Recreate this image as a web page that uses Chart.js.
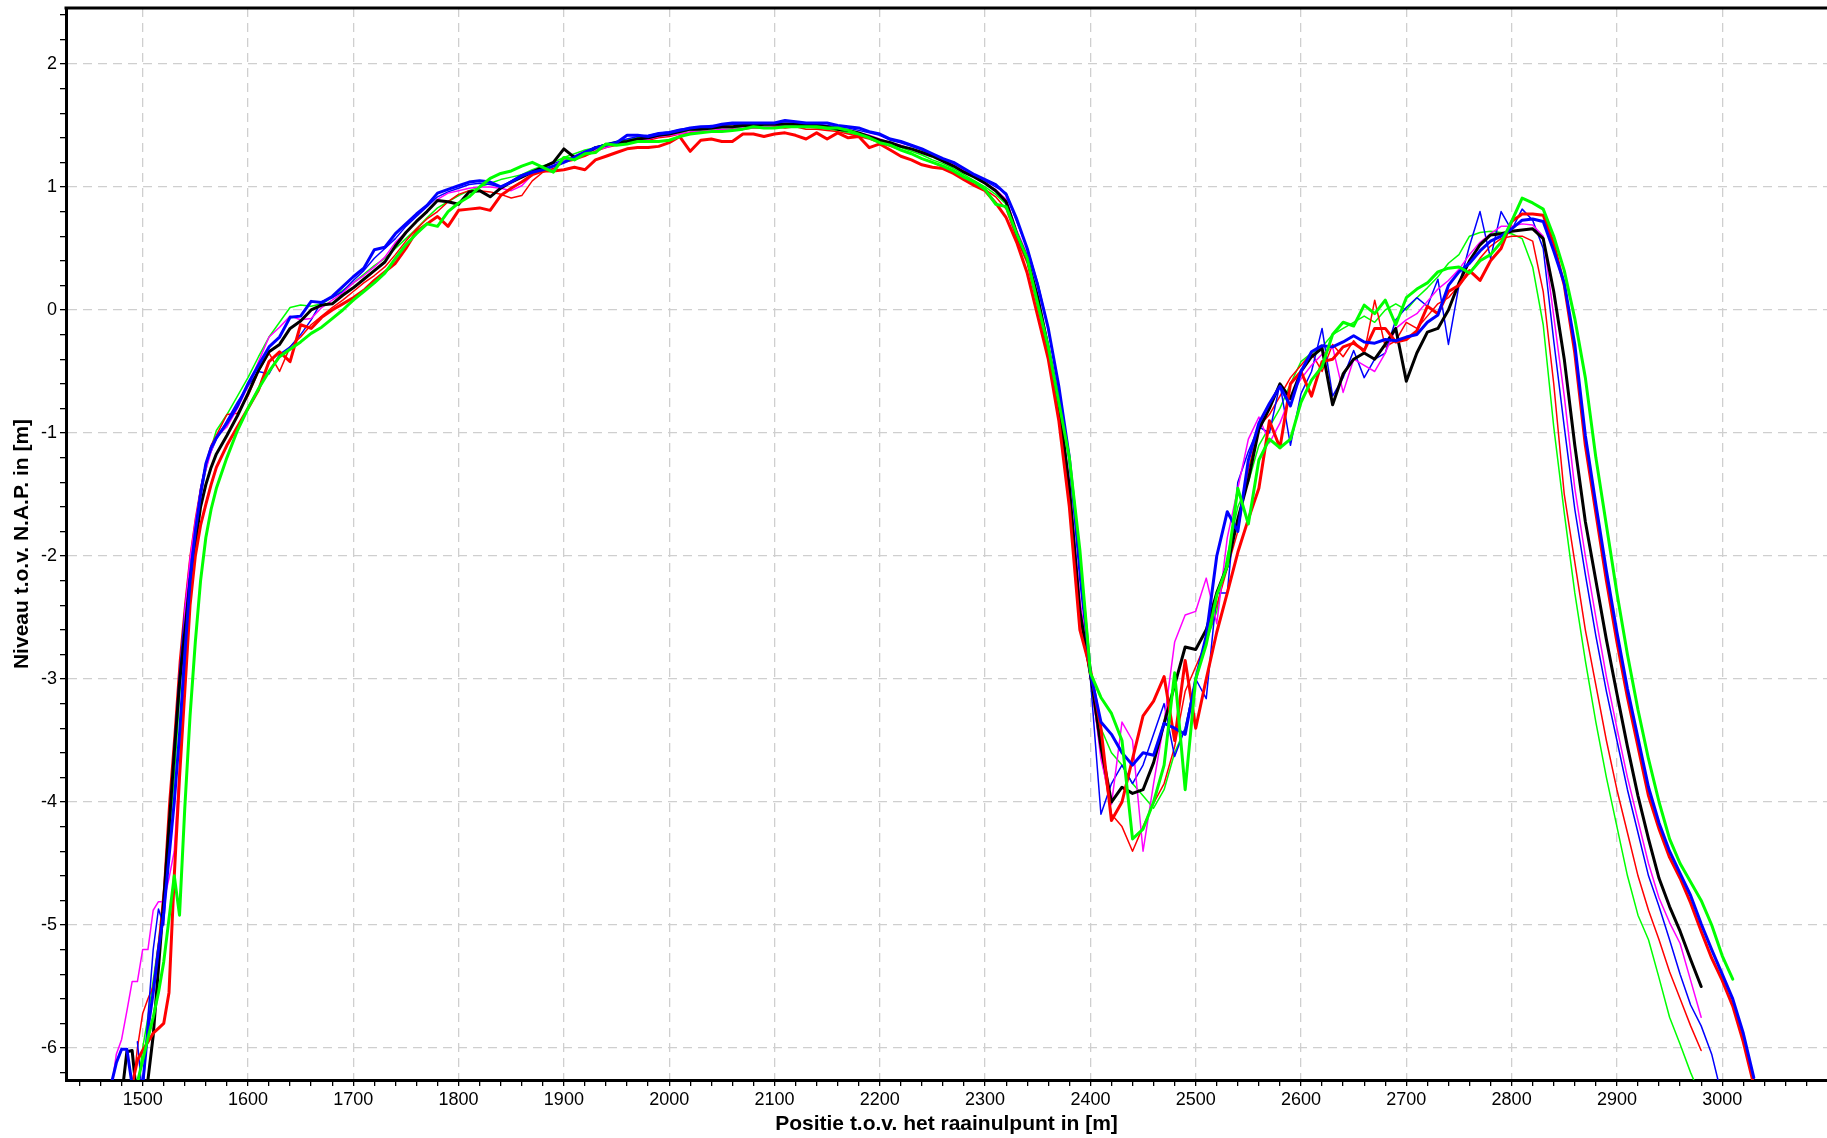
<!DOCTYPE html>
<html>
<head>
<meta charset="utf-8">
<title>Raaiprofielen</title>
<script src="https://cdn.jsdelivr.net/npm/chart.js@4.4.1/dist/chart.umd.min.js"></script>
<style>
  html, body { margin: 0; padding: 0; background: #fff; }
  #wrap { width: 1827px; height: 1138px; }
</style>
</head>
<body>
<div id="wrap"><canvas id="profiel" width="1827" height="1138"></canvas></div>
<script>
// positie t.o.v. raainulpunt [m] (5 m tot 1570, daarna 10 m)
const POSITIES = [
  1470, 1475, 1480, 1485, 1490, 1495, 1500, 1505, 1510, 1515, 1520, 1525, 1530, 1535, 1540, 1545, 1550, 1555, 1560, 1565, 1570,
  1580, 1590, 1600, 1610, 1620, 1630, 1640, 1650, 1660, 1670,
  1680, 1690, 1700, 1710, 1720, 1730, 1740, 1750, 1760, 1770,
  1780, 1790, 1800, 1810, 1820, 1830, 1840, 1850, 1860, 1870,
  1880, 1890, 1900, 1910, 1920, 1930, 1940, 1950, 1960, 1970,
  1980, 1990, 2000, 2010, 2020, 2030, 2040, 2050, 2060, 2070,
  2080, 2090, 2100, 2110, 2120, 2130, 2140, 2150, 2160, 2170,
  2180, 2190, 2200, 2210, 2220, 2230, 2240, 2250, 2260, 2270,
  2280, 2290, 2300, 2310, 2320, 2330, 2340, 2350, 2360, 2370,
  2380, 2390, 2400, 2410, 2420, 2430, 2440, 2450, 2460, 2470,
  2480, 2490, 2500, 2510, 2520, 2530, 2540, 2550, 2560, 2570,
  2580, 2590, 2600, 2610, 2620, 2630, 2640, 2650, 2660, 2670,
  2680, 2690, 2700, 2710, 2720, 2730, 2740, 2750, 2760, 2770,
  2780, 2790, 2800, 2810, 2820, 2830, 2840, 2850, 2860, 2870,
  2880, 2890, 2900, 2910, 2920, 2930, 2940, 2950, 2960, 2970,
  2980, 2990, 3000, 3010, 3020, 3030
];

const X_LABELS = [1500, 1600, 1700, 1800, 1900, 2000, 2100, 2200, 2300, 2400, 2500, 2600, 2700, 2800, 2900, 3000];
const Y_LABELS = [2, 1, 0, -1, -2, -3, -4, -5, -6];

// niveau t.o.v. NAP [m]
const ZWART = [
  null, null, -6.4, -6.03, -6.02, -6.45, -6.6, -6.26, -5.9, -5.35, -4.8, -4.2, -3.6, -3.03, -2.62, -2.2, -1.9, -1.6, -1.42, -1.28, -1.17,
  -1.02, -0.86, -0.68, -0.49, -0.34, -0.28, -0.15, -0.09, 0.0, 0.04,
  0.05, 0.12, 0.18, 0.25, 0.32, 0.39, 0.52, 0.63, 0.72, 0.8,
  0.89, 0.88, 0.86, 0.96, 0.97, 0.92, 0.99, 1.04, 1.08, 1.12,
  1.16, 1.2, 1.31, 1.24, 1.27, 1.32, 1.34, 1.36, 1.37, 1.39,
  1.4, 1.42, 1.43, 1.45, 1.47, 1.47, 1.48, 1.49, 1.49, 1.5,
  1.5, 1.51, 1.51, 1.51, 1.51, 1.5, 1.5, 1.49, 1.47, 1.46,
  1.44, 1.41, 1.38, 1.36, 1.33, 1.31, 1.28, 1.25, 1.21, 1.17,
  1.12, 1.08, 1.03, 0.97, 0.88, 0.62, 0.42, 0.1, -0.31, -0.75,
  -1.44, -2.45, -2.95, -3.55, -4.0, -3.88, -3.93, -3.9, -3.68, -3.36,
  -3.05, -2.74, -2.76, -2.6, -2.3, -2.08, -1.7, -1.38, -0.97, -0.8,
  -0.6, -0.72, -0.5, -0.38, -0.31, -0.77, -0.52, -0.4, -0.35, -0.4,
  -0.28, -0.15, -0.58, -0.35, -0.18, -0.15, 0.0, 0.22, 0.4, 0.53,
  0.61, 0.62, 0.64, 0.65, 0.66, 0.58, 0.15, -0.4, -1.1, -1.72,
  -2.2, -2.68, -3.12, -3.55, -3.95, -4.3, -4.62, -4.85, -5.05, -5.28,
  -5.5, null, null, null, null, null
];

const BLAUW_DIK = [
  -6.3, -6.12, -6.01, -6.01, -6.3, -6.5, -6.3, -5.85, -5.55, -5.2, -4.9, -4.45, -4.0, -3.45, -2.8, -2.2, -1.8, -1.5, -1.25, -1.12, -1.04,
  -0.92, -0.78, -0.6, -0.45, -0.3, -0.22, -0.06, -0.05, 0.07, 0.06,
  0.11, 0.19, 0.27, 0.34, 0.49, 0.51, 0.62, 0.7, 0.78, 0.85,
  0.95, 0.98, 1.01, 1.04, 1.05, 1.04, 1.0, 1.04, 1.09, 1.12,
  1.14, 1.17, 1.2, 1.24, 1.28, 1.32, 1.34, 1.36, 1.42, 1.42,
  1.41, 1.43, 1.44, 1.46, 1.48, 1.49, 1.49, 1.51, 1.52, 1.52,
  1.52, 1.52, 1.52, 1.54, 1.53, 1.52, 1.52, 1.52, 1.5, 1.49,
  1.48, 1.45, 1.43, 1.39, 1.37, 1.34, 1.31, 1.27, 1.23, 1.2,
  1.15, 1.1, 1.06, 1.02, 0.94, 0.74, 0.5, 0.2, -0.15, -0.62,
  -1.2, -2.05, -2.95, -3.35, -3.45, -3.6, -3.7, -3.6, -3.62, -3.36,
  -3.4, -3.45, -3.0, -2.65, -2.0, -1.64, -1.8, -1.22, -0.92, -0.76,
  -0.62, -0.78, -0.5, -0.34, -0.29, -0.3, -0.26, -0.21, -0.26, -0.27,
  -0.24, -0.25, -0.22, -0.2, -0.1, -0.04, 0.2, 0.31, 0.38, 0.48,
  0.56, 0.6, 0.66, 0.73, 0.74, 0.72, 0.48, 0.22, -0.28, -1.02,
  -1.58, -2.12, -2.62, -3.08, -3.48, -3.88, -4.17, -4.4, -4.58, -4.76,
  -4.99, -5.2, -5.4, -5.6, -5.88, -6.24
];

const ROOD_DIK = [
  null, null, null, null, -6.3, -6.1, -6.02, -5.95, -5.88, -5.84, -5.8, -5.55, -4.6, -3.8, -3.1, -2.4, -2.0, -1.75, -1.58, -1.42, -1.28,
  -1.1, -0.95, -0.8, -0.65, -0.42, -0.34, -0.42, -0.12, -0.15, -0.06,
  0.0, 0.05, 0.1, 0.16, 0.24, 0.31, 0.38, 0.5, 0.64, 0.7,
  0.76, 0.68, 0.81, 0.82, 0.83, 0.81, 0.93, 0.99, 1.04, 1.1,
  1.13, 1.13, 1.14, 1.16, 1.14, 1.22, 1.25, 1.28, 1.31, 1.32,
  1.32, 1.33, 1.36, 1.41, 1.29, 1.38, 1.39, 1.37, 1.37, 1.43,
  1.43, 1.41, 1.43, 1.44, 1.42, 1.39, 1.44, 1.39, 1.44, 1.4,
  1.41, 1.32, 1.35, 1.3, 1.25, 1.22, 1.18, 1.16, 1.15, 1.11,
  1.06, 1.01, 0.97, 0.87, 0.75, 0.55, 0.3, -0.05, -0.4, -0.9,
  -1.6, -2.6, -2.92, -3.4, -4.15, -4.0, -3.65, -3.3, -3.18, -2.98,
  -3.5, -2.85, -3.4, -3.0, -2.62, -2.3, -1.97, -1.7, -1.45, -0.9,
  -1.12, -0.6, -0.5, -0.7, -0.42, -0.4, -0.3, -0.27, -0.33, -0.15,
  -0.15, -0.26, -0.24, -0.17, 0.03, -0.03, 0.15, 0.2, 0.32, 0.24,
  0.4, 0.5, 0.72, 0.78, 0.78, 0.77, 0.54, 0.2, -0.35, -1.1,
  -1.65, -2.2, -2.7, -3.15, -3.55, -3.95, -4.22, -4.45, -4.62, -4.82,
  -5.05, -5.27, -5.45, -5.66, -5.95, -6.3
];

const GROEN_DIK = [
  null, null, null, null, -6.6, -6.28, -6.1, -5.92, -5.75, -5.55, -5.3, -4.95, -4.6, -4.92, -4.05, -3.3, -2.7, -2.2, -1.85, -1.62, -1.45,
  -1.2, -0.98, -0.8, -0.64, -0.5, -0.38, -0.32, -0.26, -0.19, -0.14,
  -0.07, 0.0, 0.08, 0.15, 0.22, 0.3, 0.42, 0.53, 0.62, 0.7,
  0.68, 0.8, 0.87, 0.92, 1.0, 1.07, 1.11, 1.13, 1.17, 1.2,
  1.16, 1.12, 1.24, 1.22, 1.27, 1.28, 1.35, 1.34, 1.35, 1.37,
  1.37, 1.37, 1.38, 1.41, 1.43, 1.44, 1.45, 1.45, 1.46, 1.47,
  1.49, 1.48, 1.48, 1.49, 1.49, 1.49, 1.49, 1.48, 1.48, 1.46,
  1.43, 1.4, 1.36, 1.34, 1.3, 1.27, 1.23, 1.2, 1.17, 1.13,
  1.08, 1.04, 0.98, 0.86, 0.84, 0.62, 0.42, 0.05, -0.3, -0.75,
  -1.2, -1.95, -2.95, -3.15, -3.28, -3.5, -4.3, -4.22, -4.0, -3.7,
  -2.95, -3.9, -3.0, -2.72, -2.32, -2.08, -1.45, -1.74, -1.22, -1.05,
  -1.12, -1.05, -0.75, -0.57, -0.46, -0.2, -0.1, -0.13, 0.04, -0.03,
  0.08, -0.12, 0.1, 0.17, 0.22, 0.31, 0.34, 0.35, 0.3, 0.4,
  0.45, 0.55, 0.72, 0.91, 0.87, 0.82, 0.6, 0.32, -0.07, -0.55,
  -1.2, -1.75, -2.3, -2.8, -3.25, -3.65, -4.0, -4.3, -4.5, -4.65,
  -4.8, -5.0, -5.25, -5.44, null, null
];

const MAGENTA_DUN = [
  -6.35, -6.05, -5.93, -5.7, -5.46, -5.46, -5.2, -5.2, -4.88, -4.81, -4.81, -4.62, -4.4, -3.71, -2.45, -2.02, -1.72, -1.47, -1.3, -1.15, -1.03,
  -0.95, -0.8, -0.62, -0.42, -0.22, -0.14, -0.05, -0.08, -0.07, 0.02,
  0.08, 0.14, 0.22, 0.28, 0.35, 0.43, 0.55, 0.63, 0.72, 0.8,
  0.9, 0.95, 0.97, 0.99, 1.0, 1.0, 0.99, 0.97, 1.01, 1.1,
  1.14, 1.17, 1.22, 1.25, 1.28, 1.3, 1.32, 1.35, 1.36, 1.38,
  1.39, 1.41, 1.42, 1.43, 1.45, 1.45, 1.46, 1.47, 1.47, 1.48,
  1.48, 1.49, 1.5, 1.5, 1.5, 1.49, 1.49, 1.48, 1.47, 1.46,
  1.44, 1.42, 1.39, 1.36, 1.34, 1.31, 1.28, 1.25, 1.21, 1.18,
  1.13, 1.08, 1.03, 0.98, 0.9, 0.65, 0.45, 0.12, -0.28, -0.72,
  -1.4, -2.35, -2.95, -3.65, -4.02, -3.35, -3.5, -4.4, -3.85, -3.35,
  -2.7, -2.48, -2.45, -2.18, -2.55, -1.85, -1.45, -1.05, -0.87, -1.08,
  -0.92, -0.7, -0.56, -0.45, -0.36, -0.3, -0.67, -0.4, -0.45, -0.5,
  -0.35, -0.15, -0.08, -0.03, 0.07, 0.17, 0.24, 0.33, 0.45, 0.55,
  0.62, 0.68, 0.68, 0.7, 0.69, 0.6, -0.05, -0.7, -1.45, -2.0,
  -2.5, -2.98, -3.4, -3.8, -4.15, -4.5, -4.78, -4.98, -5.15, -5.45,
  -5.75, null, null, null, null, null
];

const BLAUW_DUN = [
  null, null, null, null, null, -5.95, -6.4, -5.75, -5.2, -4.87, -5.0, -4.3, -3.55, -2.95, -2.45, -2.05, -1.75, -1.45, -1.25, -1.15, -1.05,
  -0.9, -0.75, -0.62, -0.5, -0.52, -0.36, -0.3, -0.2, -0.08, 0.07,
  0.1, 0.15, 0.24, 0.32, 0.42, 0.5, 0.58, 0.68, 0.76, 0.84,
  0.92, 0.96, 0.99, 1.02, 1.03, 1.02, 1.0, 1.05, 1.1, 1.13,
  1.16, 1.19, 1.22, 1.25, 1.29, 1.32, 1.35, 1.37, 1.39, 1.41,
  1.42, 1.44, 1.45, 1.47, 1.48, 1.49, 1.5, 1.5, 1.51, 1.51,
  1.51, 1.52, 1.52, 1.52, 1.52, 1.51, 1.51, 1.5, 1.49, 1.48,
  1.46, 1.44, 1.42, 1.38, 1.36, 1.33, 1.3, 1.26, 1.22, 1.19,
  1.14, 1.09, 1.05, 1.0, 0.95, 0.72, 0.5, 0.22, -0.15, -0.65,
  -1.2, -2.2, -3.0, -4.1, -3.85, -3.7, -3.85, -3.7, -3.45, -3.2,
  -3.63, -3.4, -3.0, -3.16, -2.3, -2.3, -1.4, -1.15, -0.95, -1.0,
  -0.6, -1.1, -0.68, -0.5, -0.15, -0.7, -0.55, -0.33, -0.55, -0.4,
  -0.35, -0.08, 0.02, 0.1, 0.03, 0.25, -0.28, 0.2, 0.52, 0.8,
  0.42, 0.8, 0.65, 0.82, 0.73, 0.5, -0.25, -0.95, -1.62, -2.15,
  -2.65, -3.1, -3.5, -3.9, -4.25, -4.6, -4.85, -5.12, -5.4, -5.65,
  -5.82, -6.05, -6.4, null, null, null
];

const ROOD_DUN = [
  null, null, null, null, -6.4, -6.0, -5.72, -5.6, -5.5, -5.15, -4.7, -4.0, -3.45, -2.85, -2.4, -2.0, -1.7, -1.45, -1.25, -1.1, -1.02,
  -0.85, -0.84, -0.7, -0.5, -0.35, -0.5, -0.3, -0.22, -0.12, -0.05,
  0.02, 0.08, 0.15, 0.22, 0.28, 0.35, 0.45, 0.56, 0.66, 0.74,
  0.8, 0.88, 0.94, 0.97, 0.97, 0.96, 0.94, 0.91, 0.93, 1.05,
  1.12, 1.15, 1.2, 1.22, 1.25, 1.29, 1.32, 1.34, 1.35, 1.37,
  1.38, 1.4, 1.41, 1.43, 1.44, 1.45, 1.46, 1.46, 1.47, 1.47,
  1.48, 1.48, 1.49, 1.48, 1.49, 1.47, 1.47, 1.46, 1.45, 1.43,
  1.41, 1.39, 1.36, 1.33, 1.3, 1.27, 1.23, 1.2, 1.16, 1.12,
  1.07, 1.02, 0.98, 0.92, 0.82, 0.58, 0.38, 0.02, -0.35, -0.82,
  -1.5, -2.5, -3.0, -3.6, -4.1, -4.2, -4.4, -4.2, -4.01, -3.85,
  -3.55, -3.1, -2.9, -2.7, -2.4, -2.1, -1.8, -1.3, -0.95, -0.85,
  -0.7, -0.55, -0.45, -0.35, -0.5, -0.28, -0.38, -0.25, -0.35, 0.08,
  -0.3, -0.25, -0.1, -0.15, -0.05, 0.05, 0.1, 0.2, 0.3, 0.42,
  0.52, 0.58, 0.6, 0.6, 0.56, 0.15, -0.6, -1.5, -2.05, -2.6,
  -3.05, -3.5, -3.9, -4.25, -4.6, -4.88, -5.12, -5.38, -5.6, -5.82,
  -6.02, null, null, null, null, null
];

const GROEN_DUN = [
  null, null, null, null, null, -6.35, -6.0, -5.75, -5.45, -5.15, -4.8, -4.35, -3.8, -3.15, -2.55, -2.1, -1.8, -1.5, -1.3, -1.12, -0.98,
  -0.85, -0.7, -0.55, -0.38, -0.22, -0.1, 0.02, 0.04, 0.03, 0.05,
  0.1, 0.16, 0.22, 0.29, 0.36, 0.42, 0.5, 0.58, 0.66, 0.75,
  0.83, 0.88, 0.93, 0.97, 1.0, 1.03, 1.06, 1.08, 1.1, 1.14,
  1.17, 1.2, 1.24, 1.27, 1.3, 1.32, 1.35, 1.37, 1.38, 1.4,
  1.41, 1.42, 1.43, 1.44, 1.46, 1.47, 1.47, 1.48, 1.48, 1.49,
  1.49, 1.5, 1.5, 1.5, 1.49, 1.49, 1.48, 1.47, 1.46, 1.44,
  1.42, 1.4, 1.37, 1.35, 1.32, 1.29, 1.26, 1.22, 1.19, 1.15,
  1.1, 1.05, 1.0, 0.94, 0.86, 0.62, 0.4, 0.06, -0.3, -0.78,
  -1.45, -2.45, -3.0, -3.4, -3.6, -3.7, -3.85, -3.95, -4.05, -3.9,
  -3.6, -3.4, -3.0, -2.7, -2.45, -2.0, -1.6, -1.4, -1.1, -0.95,
  -0.8, -0.6, -0.42, -0.35, -0.3, -0.2, -0.15, -0.1, -0.05, -0.1,
  0.0, 0.05, 0.0, 0.1, 0.18, 0.27, 0.38, 0.45, 0.6, 0.63,
  0.64, 0.63, 0.62, 0.58, 0.35, -0.12, -0.95, -1.65, -2.3, -2.85,
  -3.35, -3.8, -4.2, -4.6, -4.92, -5.12, -5.43, -5.75, -5.97, -6.2,
  -6.4, null, null, null, null, null
];

// eerste reeks wordt bovenop getekend
const REEKSEN = [
  { label: 'groen', data: GROEN_DIK, kleur: '#00ff00', dikte: 3 },
  { label: 'blauw', data: BLAUW_DIK, kleur: '#0000ff', dikte: 3 },
  { label: 'rood', data: ROOD_DIK, kleur: '#ff0000', dikte: 3 },
  { label: 'zwart', data: ZWART, kleur: '#000000', dikte: 3 },
  { label: 'magenta', data: MAGENTA_DUN, kleur: '#ff00ff', dikte: 1.5 },
  { label: 'blauw dun', data: BLAUW_DUN, kleur: '#0000ff', dikte: 1.5 },
  { label: 'rood dun', data: ROOD_DUN, kleur: '#ff0000', dikte: 1.5 },
  { label: 'groen dun', data: GROEN_DUN, kleur: '#00ff00', dikte: 1.5 }
];

const FONT = "'Liberation Sans', Arial, Helvetica, sans-serif";
const GRID_KLEUR = '#cfcfcf';

// kleine streepjes tussen de hoofdlabels
const X_STAP = 20;
const Y_STAP = 0.2;

function isLabel(lijst, v) {
  return lijst.some(l => Math.abs(l - v) < 1e-6);
}

const kaderBoven = {
  id: 'kaderBoven',
  afterDraw(chart) {
    const { ctx, chartArea } = chart;
    ctx.save();
    ctx.strokeStyle = '#000';
    ctx.lineWidth = 3;
    ctx.beginPath();
    ctx.moveTo(chartArea.left - 1.5, chartArea.top);
    ctx.lineTo(chartArea.right, chartArea.top);
    ctx.stroke();
    ctx.restore();
  }
};

new Chart(document.getElementById('profiel'), {
  type: 'line',
  data: {
    datasets: REEKSEN.map(r => ({
      label: r.label,
      data: POSITIES.map((x, i) => ({ x, y: r.data[i] })),
      borderColor: r.kleur,
      borderWidth: r.dikte,
      pointRadius: 0,
      fill: false,
      spanGaps: false
    }))
  },
  options: {
    responsive: false,
    animation: false,
    devicePixelRatio: 1,
    layout: { padding: { top: 8, right: 0, left: 0, bottom: 0 } },
    plugins: { legend: { display: false }, tooltip: { enabled: false } },
    elements: { line: { tension: 0, borderJoinStyle: 'round', borderCapStyle: 'round' } },
    scales: {
      x: {
        type: 'linear',
        position: 'bottom',
        min: 1427.2,
        max: 3099.5,
        afterBuildTicks: axis => {
          const t = [];
          for (let v = 1440; v <= 3080; v += X_STAP) t.push({ value: v });
          axis.ticks = t;
        },
        afterFit: s => { s.height = 58; s.paddingLeft = 0; s.paddingRight = 0; },
        ticks: {
          autoSkip: false,
          maxRotation: 0,
          minRotation: 0,
          padding: 3,
          color: '#000',
          font: { family: FONT, size: 18 },
          callback: v => isLabel(X_LABELS, v) ? String(v) : ''
        },
        grid: {
          color: c => (c.tick && isLabel(X_LABELS, c.tick.value)) ? GRID_KLEUR : 'rgba(0,0,0,0)',
          lineWidth: 1.3,
          drawTicks: true,
          tickLength: 6,
          tickColor: '#000',
          tickWidth: 1.3,
          tickBorderDash: []
        },
        border: { display: true, color: '#000', width: 3, dash: [9, 6] },
        title: {
          display: true,
          text: 'Positie t.o.v. het raainulpunt in [m]',
          color: '#000',
          font: { family: FONT, size: 21, weight: 'bold' },
          padding: { top: 0, bottom: 1 }
        }
      },
      y: {
        type: 'linear',
        min: -6.26,
        max: 2.455,
        afterBuildTicks: axis => {
          const t = [];
          for (let k = -31; k <= 12; k++) t.push({ value: k * Y_STAP });
          axis.ticks = t;
        },
        afterFit: s => { s.width = 66; s.paddingTop = 0; s.paddingBottom = 0; },
        ticks: {
          autoSkip: false,
          padding: 3,
          color: '#000',
          font: { family: FONT, size: 18 },
          callback: v => isLabel(Y_LABELS, v) ? String(Math.round(v)) : ''
        },
        grid: {
          color: c => (c.tick && isLabel(Y_LABELS, c.tick.value)) ? GRID_KLEUR : 'rgba(0,0,0,0)',
          lineWidth: 1.3,
          drawTicks: true,
          tickLength: 6,
          tickColor: '#000',
          tickWidth: 1.3,
          tickBorderDash: []
        },
        border: { display: true, color: '#000', width: 3, dash: [9, 6] },
        title: {
          display: true,
          text: 'Niveau t.o.v. N.A.P. in [m]',
          color: '#000',
          font: { family: FONT, size: 21, weight: 'bold' },
          padding: { top: 10, bottom: 0 }
        }
      }
    }
  },
  plugins: [kaderBoven]
});
</script>
</body>
</html>
